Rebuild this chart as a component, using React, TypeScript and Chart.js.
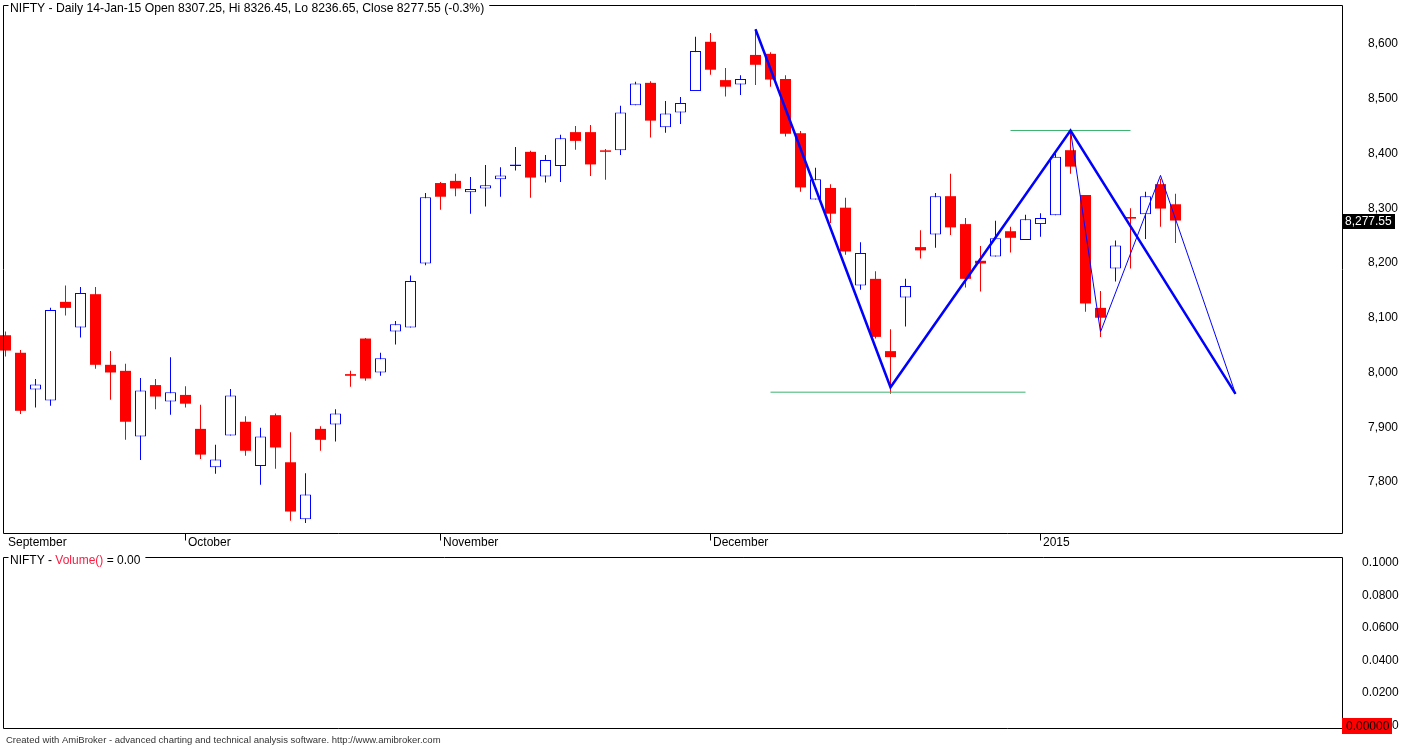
import React, { useEffect, useRef } from 'react';
import { Chart, registerables } from 'chart.js';

Chart.register(...registerables);

const FONT = '"Liberation Sans", Arial, sans-serif';

const dates = [
  '15-Sep-14', '16-Sep-14', '17-Sep-14', '18-Sep-14', '19-Sep-14', '22-Sep-14', '23-Sep-14', '24-Sep-14', '25-Sep-14', '26-Sep-14', '29-Sep-14', '30-Sep-14',
  '1-Oct-14', '7-Oct-14', '8-Oct-14', '9-Oct-14', '10-Oct-14', '13-Oct-14', '14-Oct-14', '16-Oct-14', '17-Oct-14', '20-Oct-14', '21-Oct-14', '22-Oct-14', '27-Oct-14', '28-Oct-14', '29-Oct-14', '30-Oct-14', '31-Oct-14',
  '3-Nov-14', '5-Nov-14', '7-Nov-14', '10-Nov-14', '11-Nov-14', '12-Nov-14', '13-Nov-14', '14-Nov-14', '17-Nov-14', '18-Nov-14', '19-Nov-14', '20-Nov-14', '21-Nov-14', '24-Nov-14', '25-Nov-14', '26-Nov-14', '27-Nov-14', '28-Nov-14',
  '1-Dec-14', '2-Dec-14', '3-Dec-14', '4-Dec-14', '5-Dec-14', '8-Dec-14', '9-Dec-14', '10-Dec-14', '11-Dec-14', '12-Dec-14', '15-Dec-14', '16-Dec-14', '17-Dec-14', '18-Dec-14', '19-Dec-14', '22-Dec-14', '23-Dec-14', '24-Dec-14', '26-Dec-14', '29-Dec-14', '30-Dec-14', '31-Dec-14',
  '1-Jan-15', '2-Jan-15', '5-Jan-15', '6-Jan-15', '7-Jan-15', '8-Jan-15', '9-Jan-15', '12-Jan-15', '13-Jan-15', '14-Jan-15',
];

const open = [
  8068, 8036, 7969, 7949, 8129, 8082, 8143, 8014, 8003, 7883,
  7977, 7947, 7959, 7897, 7827, 7885, 7910, 7829, 7922, 7836,
  7732, 7897, 7905, 7997, 8062, 8000, 8075, 8082, 8199, 8346,
  8350, 8329, 8336, 8353, 8377, 8403, 8358, 8377, 8439, 8439,
  8405, 8406, 8488, 8529, 8448, 8475, 8514, 8604, 8534, 8526,
  8580, 8582, 8536, 8437, 8316, 8337, 8301, 8159, 8171, 8039,
  8137, 8229, 8252, 8322, 8271, 8204, 8212, 8258, 8242, 8271,
  8287, 8406, 8324, 8118, 8190, 8284, 8289, 8344, 8307.25,
];
const high = [
  8075, 8041, 7988, 8118, 8159, 8156, 8156, 8039, 8016, 7990,
  7988, 8028, 7975, 7941, 7868, 7970, 7920, 7899, 7925, 7891,
  7816, 7902, 7933, 8003, 8063, 8036, 8094, 8177, 8328, 8348,
  8363, 8357, 8379, 8375, 8412, 8405, 8397, 8434, 8450, 8452,
  8408, 8487, 8531, 8532, 8496, 8503, 8613, 8620, 8556, 8543,
  8627, 8585, 8543, 8441, 8374, 8344, 8319, 8238, 8185, 8079,
  8171, 8260, 8328, 8363, 8282, 8231, 8277, 8266, 8288, 8291,
  8400, 8441, 8324, 8149, 8241, 8300, 8330, 8354, 8326.45,
];
const low = [
  8029, 7924, 7936, 7939, 8104, 8064, 8007, 7950, 7877, 7840,
  7933, 7923, 7936, 7842, 7815, 7885, 7848, 7795, 7824, 7729,
  7725, 7857, 7874, 7974, 7985, 7994, 8051, 8082, 8196, 8297,
  8322, 8290, 8303, 8321, 8369, 8319, 8347, 8348, 8407, 8359,
  8352, 8397, 8488, 8429, 8438, 8454, 8514, 8544, 8504, 8507,
  8525, 8522, 8431, 8330, 8316, 8273, 8215, 8151, 8062, 7961,
  8084, 8208, 8228, 8251, 8155, 8148, 8212, 8219, 8242, 8248,
  8287, 8363, 8111, 8065, 8166, 8190, 8244, 8266, 8236.65,
];
const close = [
  8040, 7930, 7978, 8114, 8118, 8145, 8014, 8000, 7910, 7967,
  7956, 7964, 7943, 7850, 7841, 7958, 7857, 7883, 7863, 7746,
  7777, 7877, 7925, 7994, 7989, 8026, 8088, 8167, 8320, 8321,
  8336, 8335, 8342, 8360, 8380, 8356, 8388, 8428, 8423, 8380,
  8403, 8475, 8528, 8460, 8473, 8492, 8587, 8553, 8522, 8536,
  8562, 8535, 8436, 8338, 8353, 8290, 8221, 8218, 8065, 8028,
  8158, 8223, 8322, 8265, 8171, 8199, 8245, 8246, 8280, 8282,
  8394, 8376, 8126, 8100, 8232, 8281, 8322, 8299.4, 8277.55,
];

// Volume() = 0.00 : no volume bars drawn
const volume: number[] = [];

const priceTicks = [7800, 7900, 8000, 8100, 8200, 8300, 8400, 8500, 8600];
const volumeTicks = [0, 0.02, 0.04, 0.06, 0.08, 0.1];

const monthTickIdx = [0, 12, 29, 47, 69];
const monthLabels = ['September', 'October', 'November', 'December', '2015'];

// drawn pattern lines (bar index, price)
const zigThickX = [50, 59, 71, 82];
const zigThickY = [8627, 7973, 8442, 7961];
const zigThinX = [71, 73, 77, 82];
const zigThinY = [8442, 8074, 8360, 7961];
const supportX = [51, 68];
const supportY = [7964, 7964];
const resistX = [67, 75];
const resistY = [8442, 8442];

const footerText = 'Created with AmiBroker - advanced charting and technical analysis software. http://www.amibroker.com';

function fmtThousands(v: number, digits = 0) {
  const s = v.toFixed(digits);
  const parts = s.split('.');
  const ip = parts[0].replace(/\B(?=(\d{3})+(?!\d))/g, ',');
  return parts[1] ? ip + '.' + parts[1] : ip;
}

const X_MIN = -2.5 / 15;
const X_MAX = X_MIN + 1339 / 15;

function drawFrame(ctx: any, a: any, headerEnd: number) {
  const L = Math.round(a.left) + 0.5;
  const R = Math.round(a.right) + 0.5;
  const T = Math.round(a.top) + 0.5;
  const B = Math.round(a.bottom) + 0.5;
  ctx.strokeStyle = '#000';
  ctx.lineWidth = 1;
  ctx.beginPath();
  ctx.moveTo(L + 5, T);
  ctx.lineTo(L, T);
  ctx.lineTo(L, B);
  ctx.lineTo(R, B);
  ctx.lineTo(R, T);
  ctx.lineTo(headerEnd, T);
  ctx.stroke();
  return { L, R, T, B };
}

const mainDecor = {
  id: 'mainDecor',
  afterDraw(chart: any) {
    const { ctx, chartArea: a, scales } = chart;
    const xs = scales.x;
    const ys = scales.y;
    const n = close.length - 1;
    const pct = ((close[n] - close[n - 1]) / close[n - 1]) * 100;
    const hdr = `NIFTY - Daily ${dates[n]} Open ${open[n].toFixed(2)}, Hi ${high[n].toFixed(2)}, Lo ${low[n].toFixed(2)}, Close ${close[n].toFixed(2)} (${pct.toFixed(1)}%)`;
    ctx.save();
    ctx.font = `12.2px ${FONT}`;
    ctx.textAlign = 'left';
    ctx.textBaseline = 'alphabetic';
    ctx.fillStyle = '#000';
    ctx.fillText(hdr, 10, 12);
    const hw = ctx.measureText(hdr).width;
    const f = drawFrame(ctx, a, 10 + hw + 5);
    ctx.font = `12px ${FONT}`;
    // month ticks and labels
    ctx.beginPath();
    monthTickIdx.forEach((i, k) => {
      const px = Math.floor(xs.getPixelForValue(i)) + 0.5;
      if (k > 0) {
        ctx.moveTo(px, f.B);
        ctx.lineTo(px, f.B + 7);
      }
      ctx.fillText(monthLabels[k], px + 2.5, 546);
    });
    ctx.stroke();
    // last price box
    const py = ys.getPixelForValue(close[n]);
    ctx.fillStyle = '#000';
    ctx.fillRect(Math.round(a.right), Math.round(py) - 7, 53, 15);
    ctx.fillStyle = '#fff';
    ctx.textBaseline = 'middle';
    ctx.fillText(fmtThousands(close[n], 2), Math.round(a.right) + 3, Math.round(py) + 0.5);
    ctx.restore();
  },
};

const volDecor = {
  id: 'volDecor',
  afterDraw(chart: any) {
    const { ctx, chartArea: a, scales } = chart;
    const ys = scales.y;
    ctx.save();
    ctx.font = `12px ${FONT}`;
    ctx.textAlign = 'left';
    ctx.textBaseline = 'alphabetic';
    const p1 = 'NIFTY - ';
    const p2 = 'Volume()';
    const lastVol = volume.length ? volume[volume.length - 1] : 0;
    const p3 = ` = ${lastVol.toFixed(2)}`;
    let x = 10;
    ctx.fillStyle = '#000';
    ctx.fillText(p1, x, 12);
    x += ctx.measureText(p1).width;
    ctx.fillStyle = '#ff1a40';
    ctx.fillText(p2, x, 12);
    x += ctx.measureText(p2).width;
    ctx.fillStyle = '#000';
    ctx.fillText(p3, x, 12);
    x += ctx.measureText(p3).width;
    drawFrame(ctx, a, x + 5);
    // last value box
    const zy = ys.getPixelForValue(lastVol);
    ctx.fillStyle = '#ff0000';
    ctx.fillRect(Math.round(a.right), Math.round(zy) - 8, 50, 16);
    ctx.fillStyle = '#000';
    ctx.textBaseline = 'middle';
    ctx.fillText(lastVol.toFixed(5), Math.round(a.right) + 4, Math.round(zy) + 0.5);
    // footer
    ctx.font = `9.5px ${FONT}`;
    ctx.fillStyle = '#333';
    ctx.fillText(footerText, 6, 188);
    ctx.restore();
  },
};

export default function App() {
  const mainRef = useRef<HTMLCanvasElement>(null);
  const volRef = useRef<HTMLCanvasElement>(null);

  useEffect(() => {
    Chart.defaults.font.family = FONT;
    Chart.defaults.font.size = 12;
    Chart.defaults.color = '#000';

    const up = close.map((c, i) => c >= open[i]);
    const bodyFill = up.map((u) => (u ? '#ffffff' : '#ff0000'));
    const lineCol = up.map((u) => (u ? '#0000ff' : '#ff0000'));
    const bodyBorderW = up.map((u) => (u ? 1 : 0));

    const mainChart = new Chart(mainRef.current as HTMLCanvasElement, {
      type: 'bar',
      data: {
        datasets: [
          {
            type: 'line',
            data: zigThickX.map((x, i) => ({ x, y: zigThickY[i] })),
            borderColor: '#0000ff',
            borderWidth: 2.5,
            pointRadius: 0,
            tension: 0,
            fill: false,
            order: 0,
          } as any,
          {
            type: 'line',
            data: zigThinX.map((x, i) => ({ x, y: zigThinY[i] })),
            borderColor: '#0000ff',
            borderWidth: 1,
            pointRadius: 0,
            tension: 0,
            fill: false,
            order: 0,
          } as any,
          {
            type: 'line',
            data: supportX.map((x, i) => ({ x, y: supportY[i] })),
            borderColor: '#3cb371',
            borderWidth: 1,
            pointRadius: 0,
            fill: false,
            order: 0,
          } as any,
          {
            type: 'line',
            data: resistX.map((x, i) => ({ x, y: resistY[i] })),
            borderColor: '#3cb371',
            borderWidth: 1,
            pointRadius: 0,
            fill: false,
            order: 0,
          } as any,
          {
            type: 'bar',
            data: open.map((o, i) => ({ x: i, y: [o, close[i]] })),
            backgroundColor: bodyFill,
            borderColor: lineCol,
            borderWidth: bodyBorderW,
            borderSkipped: false,
            barThickness: 11,
            minBarLength: 1.5,
            grouped: false,
            inflateAmount: 0,
            clip: false,
            order: 1,
          } as any,
          {
            type: 'bar',
            data: low.map((l, i) => ({ x: i, y: [l, high[i]] })),
            backgroundColor: lineCol,
            borderWidth: 0,
            borderSkipped: false,
            barThickness: 1,
            grouped: false,
            inflateAmount: 0,
            clip: false,
            order: 2,
          } as any,
        ],
      },
      options: {
        responsive: false,
        animation: false,
        devicePixelRatio: 1,
        layout: { padding: { left: 3, top: 5, right: 0, bottom: 19 } },
        plugins: { legend: { display: false }, tooltip: { enabled: false } },
        events: [],
        scales: {
          x: { type: 'linear', display: false, min: X_MIN, max: X_MAX, offset: false },
          y: {
            type: 'linear',
            position: 'right',
            min: 7706.8,
            max: 8671.2,
            grid: { display: false, drawTicks: false },
            border: { display: false },
            afterBuildTicks: (s: any) => {
              s.ticks = priceTicks.map((v) => ({ value: v }));
            },
            afterFit: (s: any) => {
              s.width = 60;
              s.paddingTop = 0;
              s.paddingBottom = 0;
            },
            ticks: {
              autoSkip: false,
              padding: 26,
              color: '#000',
              font: { family: FONT, size: 12 },
              callback: (v: any) => fmtThousands(Number(v)),
            },
          },
        },
      } as any,
      plugins: [mainDecor],
    });

    const volChart = new Chart(volRef.current as HTMLCanvasElement, {
      type: 'bar',
      data: {
        datasets: [
          {
            data: volume.map((v, i) => ({ x: i, y: v })),
            backgroundColor: '#0000ff',
            barThickness: 11,
          } as any,
        ],
      },
      options: {
        responsive: false,
        animation: false,
        devicePixelRatio: 1,
        layout: { padding: { left: 3, top: 5, right: 0, bottom: 18 } },
        plugins: { legend: { display: false }, tooltip: { enabled: false } },
        events: [],
        scales: {
          x: { type: 'linear', display: false, min: X_MIN, max: X_MAX, offset: false },
          y: {
            type: 'linear',
            position: 'right',
            min: -0.00141,
            max: 0.1035,
            grid: { display: false, drawTicks: false },
            border: { display: false },
            afterBuildTicks: (s: any) => {
              s.ticks = volumeTicks.map((v) => ({ value: v }));
            },
            afterFit: (s: any) => {
              s.width = 60;
              s.paddingTop = 0;
              s.paddingBottom = 0;
            },
            ticks: {
              autoSkip: false,
              padding: 20,
              color: '#000',
              font: { family: FONT, size: 12 },
              callback: (v: any) => Number(v).toFixed(4),
            },
          },
        },
      } as any,
      plugins: [volDecor],
    });

    return () => {
      mainChart.destroy();
      volChart.destroy();
    };
  }, []);

  return (
    <div style={{ position: 'absolute', left: 0, top: 0, width: 1402, height: 746, background: '#fff', overflow: 'hidden' }}>
      <canvas
        ref={mainRef}
        width={1402}
        height={552}
        style={{ position: 'absolute', left: 0, top: 0, width: 1402, height: 552 }}
      />
      <canvas
        ref={volRef}
        width={1402}
        height={194}
        style={{ position: 'absolute', left: 0, top: 552, width: 1402, height: 194 }}
      />
    </div>
  );
}
